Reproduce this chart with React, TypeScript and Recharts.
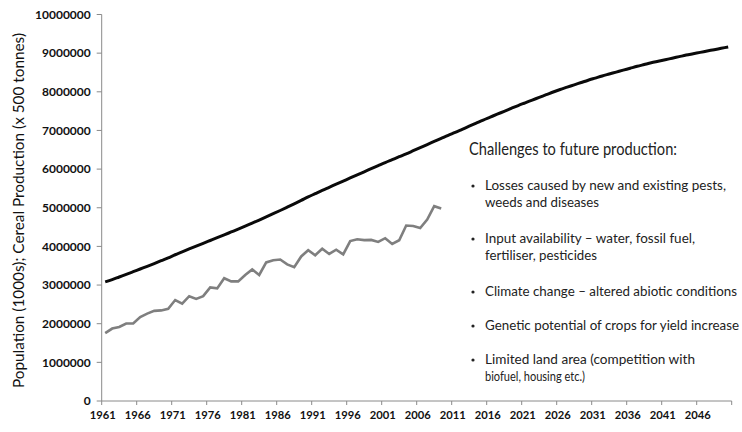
import React from "react";
import { LineChart, Line, XAxis, YAxis } from "recharts";

// world population, thousands (1961-2050, estimates + projection)
const population = [
  3082000, 3141000, 3209000, 3276000, 3345000, 3415000, 3484000, 3556000, 3631000, 3705000,
  3784000, 3858000, 3934000, 4008000, 4081000, 4153000, 4225000, 4298000, 4373000, 4448000,
  4525000, 4604000, 4683000, 4763000, 4845000, 4929000, 5015000, 5102000, 5190000, 5280000,
  5365000, 5450000, 5530000, 5610000, 5690000, 5770000, 5850000, 5930000, 6010000, 6090000,
  6170000, 6245000, 6320000, 6395000, 6475000, 6555000, 6635000, 6715000, 6795000, 6875000,
  6950000, 7030000, 7110000, 7190000, 7270000, 7345000, 7420000, 7495000, 7570000, 7645000,
  7715000, 7785000, 7855000, 7925000, 7995000, 8060000, 8120000, 8180000, 8240000, 8300000,
  8355000, 8410000, 8460000, 8510000, 8560000, 8610000, 8660000, 8705000, 8750000, 8790000,
  8830000, 8870000, 8910000, 8950000, 8985000, 9020000, 9055000, 9090000, 9125000, 9160000,
];

// cereal production, units of 500 tonnes (1961-2009)
const cereal = [
  1754000, 1874000, 1914000, 2006000, 2004000, 2174000, 2260000, 2332000, 2344000, 2386000,
  2612000, 2516000, 2712000, 2642000, 2714000, 2938000, 2914000, 3176000, 3094000, 3096000,
  3262000, 3404000, 3260000, 3586000, 3644000, 3660000, 3534000, 3464000, 3740000, 3902000,
  3772000, 3940000, 3804000, 3914000, 3792000, 4138000, 4184000, 4162000, 4168000, 4116000,
  4212000, 4064000, 4160000, 4540000, 4528000, 4474000, 4696000, 5040000, 4978000,
];

const firstYear = 1961;
const years = population.map((_, i) => firstYear + i);

const xTickYears = [
  1961, 1966, 1971, 1976, 1981, 1986, 1991, 1996, 2001, 2006, 2011, 2016, 2021, 2026, 2031,
  2036, 2041, 2046, 2051,
];
const yTicks = [0, 1000000, 2000000, 3000000, 4000000, 5000000, 6000000, 7000000, 8000000, 9000000, 10000000];

const challenges = [
  { lines: ["Losses caused by new and existing pests,", "weeds and diseases"], widths: [241, 114] },
  { lines: ["Input availability \u2013 water, fossil fuel,", "fertiliser, pesticides"], widths: [210, 112] },
  { lines: ["Climate change \u2013 altered abiotic conditions"], widths: [252] },
  { lines: ["Genetic potential of crops for yield increase"], widths: [254] },
  { lines: ["Limited land area (competition with", "biofuel, housing etc.)"], widths: [210, 100] },
];

const data = years.map((year, i) => ({
  year,
  population: population[i],
  cereal: i < cereal.length ? cereal[i] : null,
}));

const FONT = "Lato, 'Open Sans', sans-serif";

const YTick = (props: any) => {
  const { x, y, payload } = props;
  const label = String(payload.value);
  return (
    <text
      x={x}
      y={y}
      dy="0.36em"
      textAnchor="end"
      fontFamily={FONT}
      fontWeight={700}
      fontSize={12}
      fill="#111"
      textLength={label.length * 6.95}
      lengthAdjust="spacingAndGlyphs"
    >
      {label}
    </text>
  );
};

const XTick = (props: any) => {
  const { x, y, payload } = props;
  const yr = Math.round(payload.value + 0.5);
  if (yr > 2046) return null;
  return (
    <text
      x={x + 1}
      y={y}
      dy="0.71em"
      textAnchor="middle"
      fontFamily={FONT}
      fontWeight={700}
      fontSize={12}
      fill="#111"
      textLength={26}
      lengthAdjust="spacingAndGlyphs"
    >
      {yr}
    </text>
  );
};

export default function App() {
  let baseline = 190;
  const itemRows: any[] = [];
  challenges.forEach((c, ci) => {
    c.lines.forEach((line, li) => {
      itemRows.push(
        <g key={`${ci}-${li}`}>
          {li === 0 && (
            <circle cx={473} cy={baseline - 4} r={1.6} fill="#222" />
          )}
          <text
            x={485}
            y={baseline}
            fontFamily={FONT}
            fontSize={13.5}
            fill="#222"
            textLength={c.widths[li]}
            lengthAdjust="spacingAndGlyphs"
          >
            {line}
          </text>
        </g>
      );
      baseline += li < c.lines.length - 1 ? 16.5 : 36.5;
    });
    if (c.lines.length === 1) baseline -= 2.5;
  });

  return (
    <div style={{ position: "absolute", left: 0, top: 0, width: 742, height: 432, background: "#fff", overflow: "hidden" }}>
      <LineChart
        width={742}
        height={432}
        data={data}
        margin={{ top: 14.5, right: 10.3, bottom: 0, left: 1.7 }}
      >
        <XAxis
          dataKey="year"
          type="number"
          domain={[1960.5, 2050.5]}
          ticks={xTickYears.map((y) => y - 0.5)}
          interval={0}
          height={31}
          tickSize={4}
          tickMargin={5}
          stroke="#8a8a8a"
          tick={<XTick />}
        />
        <YAxis
          type="number"
          domain={[0, 10000000]}
          ticks={yTicks}
          interval={0}
          width={100}
          tickSize={5}
          tickMargin={6}
          stroke="#8a8a8a"
          tick={<YTick />}
        />
        <Line
          type="linear"
          dataKey="cereal"
          stroke="#7f7f7f"
          strokeWidth={2.6}
          dot={false}
          isAnimationActive={false}
        />
        <Line
          type="monotone"
          dataKey="population"
          stroke="#0a0a0a"
          strokeWidth={3}
          dot={false}
          isAnimationActive={false}
        />
      </LineChart>
      <svg
        width={742}
        height={432}
        style={{ position: "absolute", left: 0, top: 0, pointerEvents: "none" }}
      >
        <text
          transform="translate(24,210.5) rotate(-90)"
          textAnchor="middle"
          fontFamily={FONT}
          fontSize={15}
          fill="#111"
          textLength={355}
          lengthAdjust="spacingAndGlyphs"
        >
          Population (1000s); Cereal Production (x 500 tonnes)
        </text>
        <text
          x={469}
          y={155}
          fontFamily={FONT}
          fontSize={16.5}
          fill="#222"
          textLength={208}
          lengthAdjust="spacingAndGlyphs"
        >
          Challenges to future production:
        </text>
        {itemRows}
      </svg>
    </div>
  );
}
